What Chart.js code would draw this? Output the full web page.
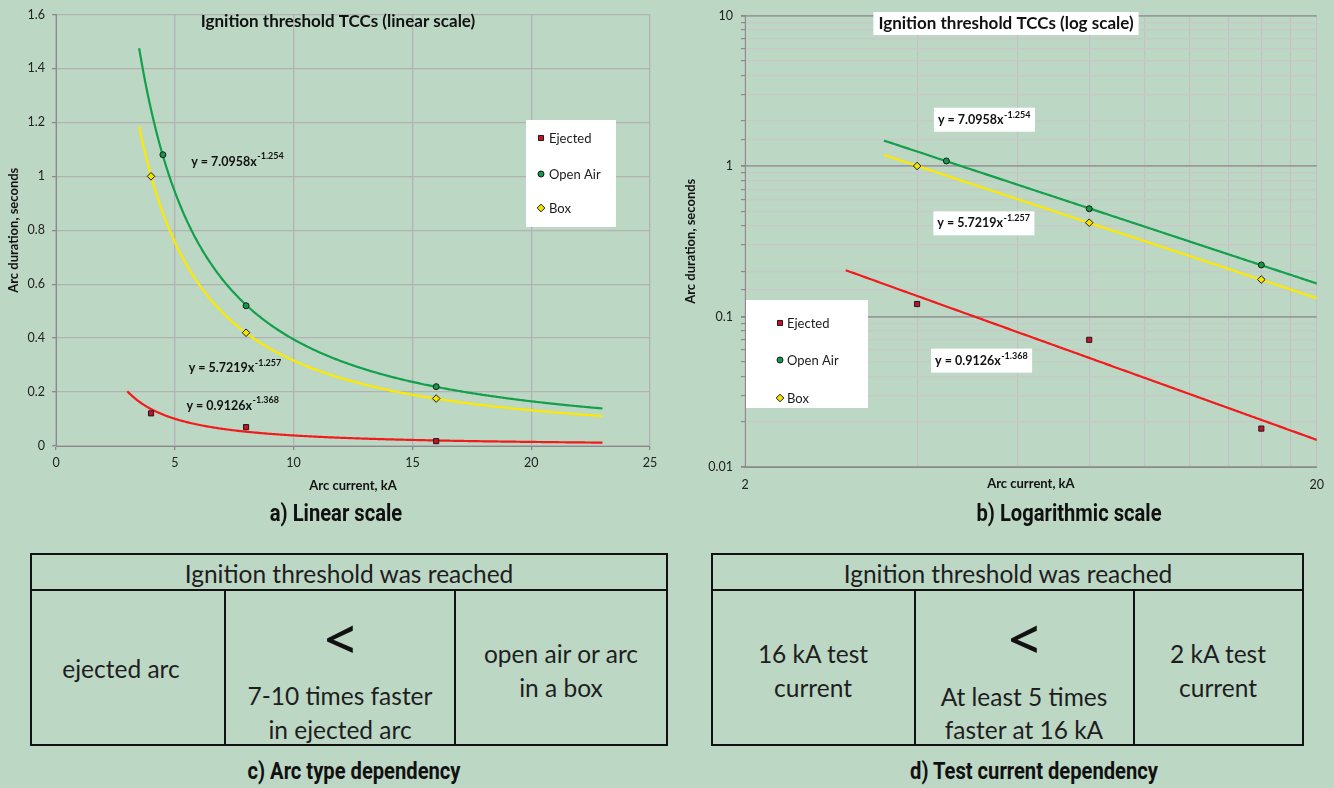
<!DOCTYPE html>
<html>
<head>
<meta charset="utf-8">
<script src="https://cdn.jsdelivr.net/npm/chart.js@4.4.1/dist/chart.umd.min.js"></script>
<style>
  body { margin: 0; width: 1334px; height: 788px; background: #bdd7c5; position: relative; overflow: hidden;
         font-family: Lato, "Open Sans", sans-serif; color: #1c1c1c; }
  .box { position: absolute; }
  .cap { position: absolute; transform: translate(-50%, -50%) scaleX(0.84); white-space: nowrap;
         font-family: Roboto, "Liberation Sans", sans-serif; font-weight: bold; font-size: 24px; color: #111; }
  .tbl { position: absolute; border: 2px solid #111; box-sizing: border-box; }
  .hl { position: absolute; height: 2px; background: #111; }
  .vl { position: absolute; width: 2px; background: #111; }
  .t { position: absolute; transform: translate(-50%, -50%); white-space: nowrap; font-size: 24.5px; color: #1e1e1e; }
  .lt { font-family: "Open Sans", sans-serif; font-size: 54px; font-weight: 600; color: #111; }
</style>
</head>
<body>

<div class="box" style="left:0;top:0;width:670px;height:500px"><canvas id="linChart"></canvas></div>
<div class="box" style="left:670px;top:0;width:664px;height:500px"><canvas id="logChart"></canvas></div>

<div class="cap" style="left:336px;top:513px">a) Linear scale</div>
<div class="cap" style="left:1069px;top:513px">b) Logarithmic scale</div>

<!-- c) arc type table -->
<div class="tbl" style="left:30px;top:553px;width:638px;height:193px"></div>
<div class="hl" style="left:30px;top:589px;width:638px"></div>
<div class="vl" style="left:224px;top:590px;height:156px"></div>
<div class="vl" style="left:454px;top:590px;height:156px"></div>
<div class="t" style="left:349px;top:573px">Ignition threshold was reached</div>
<div class="t" style="left:121px;top:668px">ejected arc</div>
<div class="t lt" style="left:340px;top:638px">&lt;</div>
<div class="t" style="left:340px;top:695px">7-10 times faster</div>
<div class="t" style="left:340px;top:729px">in ejected arc</div>
<div class="t" style="left:561px;top:653px">open air or arc</div>
<div class="t" style="left:561px;top:687px">in a box</div>
<div class="cap" style="left:354px;top:771px">c) Arc type dependency</div>

<!-- d) test current table -->
<div class="tbl" style="left:711px;top:553px;width:593px;height:193px"></div>
<div class="hl" style="left:711px;top:589px;width:593px"></div>
<div class="vl" style="left:914px;top:590px;height:156px"></div>
<div class="vl" style="left:1133px;top:590px;height:156px"></div>
<div class="t" style="left:1008px;top:573px">Ignition threshold was reached</div>
<div class="t" style="left:813px;top:653px">16 kA test</div>
<div class="t" style="left:813px;top:687px">current</div>
<div class="t lt" style="left:1024px;top:638px">&lt;</div>
<div class="t" style="left:1024px;top:696px">At least 5 times</div>
<div class="t" style="left:1024px;top:729px">faster at 16 kA</div>
<div class="t" style="left:1218px;top:653px">2 kA test</div>
<div class="t" style="left:1218px;top:687px">current</div>
<div class="cap" style="left:1034px;top:771px">d) Test current dependency</div>

<script>
// measured points (arc current kA, arc duration s)
const ejectedX = [4, 8, 16];
const ejectedY = [0.121, 0.07, 0.018];
const openAirX = [4.5, 8, 16];
const openAirY = [1.08, 0.52, 0.22];
const boxX = [4, 8, 16];
const boxY = [1.0, 0.42, 0.176];

// power trendlines as printed on the chart: y = a * x^b
const fitA = [0.9126, 7.0958, 5.7219];
const fitB = [-1.368, -1.254, -1.257];
const fitStart = [3, 3.5, 3.5];
const fitEnd = 23;

const seriesNames = ['Ejected', 'Open Air', 'Box'];
const seriesX = [ejectedX, openAirX, boxX];
const seriesY = [ejectedY, openAirY, boxY];

// tick labels
const linXTicks = [0, 5, 10, 15, 20, 25];
const linYTicks = [0, 0.2, 0.4, 0.6, 0.8, 1, 1.2, 1.4, 1.6];
const linYLabels = ['0', '0.2', '0.4', '0.6', '0.8', '1', '1.2', '1.4', '1.6'];
const logXTicks = [2, 4, 6, 8, 10, 12, 14, 16, 18, 20];
const logXLabels = ['2', '', '', '', '', '', '', '', '', '20'];
const logYDecades = [0.01, 0.1, 1, 10];
const logYLabels = ['0.01', '0.1', '1', '10'];

const eqText = ['y = 0.9126x', 'y = 7.0958x', 'y = 5.7219x'];
const eqSup = ['-1.368', '-1.254', '-1.257'];

// styles
const lineColors = ['#f21b1b', '#12a04a', '#fbe900'];
const markerFill = ['#c8102a', '#109a48', '#f6e400'];
const pointStyles = ['rect', 'circle', 'rectRot'];
const pointRadii = [3.6, 3, 3.8];
const FONT = 'Lato, "Open Sans", sans-serif';

function trendPoints(i) {
    let pts = [];
    for (let x = fitStart[i]; x <= fitEnd + 1e-9; x += 0.05) {
        pts.push({ x: x, y: fitA[i] * Math.pow(x, fitB[i]) });
    }
    return pts;
}

function buildDatasets() {
    let ds = [];
    for (let i = 0; i < 3; i++) {
        ds.push({
            label: seriesNames[i],
            data: seriesX[i].map((x, k) => ({ x: x, y: seriesY[i][k] })),
            pointStyle: pointStyles[i],
            pointRadius: pointRadii[i],
            pointHoverRadius: pointRadii[i],
            backgroundColor: markerFill[i],
            borderColor: '#1a1a1a',
            borderWidth: 1,
            showLine: false
        });
    }
    for (let i = 0; i < 3; i++) {
        ds.push({
            label: seriesNames[i] + ' trend',
            data: trendPoints(i),
            showLine: true,
            pointRadius: 0,
            pointHoverRadius: 0,
            borderColor: lineColors[i],
            borderWidth: 2.2,
            fill: false
        });
    }
    return ds;
}

// title, legend and trendline equations drawn inside the plot area
function overlay(cfg) {
    return {
        id: 'overlay',
        beforeDatasetsDraw(chart) {
            const ctx = chart.ctx;
            const xs = chart.scales.x, ys = chart.scales.y;
            ctx.save();

            // title
            ctx.font = 'bold 17px ' + FONT;
            ctx.textAlign = 'center';
            ctx.textBaseline = 'middle';
            if (cfg.titleBox) {
                const w = ctx.measureText(cfg.title).width;
                ctx.fillStyle = '#fff';
                ctx.fillRect(cfg.titleAt[0] - w / 2 - 5, cfg.titleBox[0], w + 10, cfg.titleBox[1]);
            }
            ctx.fillStyle = '#111';
            ctx.fillText(cfg.title, cfg.titleAt[0], cfg.titleAt[1]);

            // legend
            const lg = cfg.legend;
            ctx.fillStyle = '#fff';
            ctx.fillRect(lg.box[0], lg.box[1], lg.box[2], lg.box[3]);
            ctx.font = lg.size + 'px ' + FONT;
            ctx.textAlign = 'left';
            for (let i = 0; i < 3; i++) {
                const ds = chart.data.datasets[i];
                ctx.fillStyle = ds.backgroundColor;
                ctx.strokeStyle = '#1a1a1a';
                ctx.lineWidth = 1;
                Chart.helpers.drawPoint(ctx, { pointStyle: ds.pointStyle, radius: ds.pointRadius, rotation: 0, borderWidth: 1 },
                    lg.markerX, lg.rows[i]);
                ctx.fillStyle = '#1c1c1c';
                ctx.fillText(ds.label, lg.textX, lg.rows[i] + 1);
            }

            // equations
            for (let i = 0; i < 3; i++) {
                const at = cfg.eqAt[i];
                const px = xs.getPixelForValue(at[0]);
                const py = ys.getPixelForValue(at[1]);
                ctx.font = 'bold 12.5px ' + FONT;
                const w1 = ctx.measureText(eqText[i]).width;
                ctx.font = 'bold 9px ' + FONT;
                const w2 = ctx.measureText(eqSup[i]).width;
                if (cfg.eqBox) {
                    ctx.fillStyle = '#fff';
                    ctx.fillRect(px - 4, py - 12, w1 + w2 + 9, 24);
                }
                ctx.fillStyle = '#111';
                ctx.font = 'bold 12.5px ' + FONT;
                ctx.textBaseline = 'middle';
                ctx.fillText(eqText[i], px, py);
                ctx.font = 'bold 9px ' + FONT;
                ctx.fillText(eqSup[i], px + w1 + 0.5, py - 5);
            }
            ctx.restore();
        }
    };
}

function axisTitle(text, pad) {
    return { display: true, text: text, color: '#111', font: { family: FONT, size: 13, weight: 'bold' }, padding: pad };
}

const tickFont = { family: FONT, size: 12.5 };

// a) linear scale
new Chart(document.getElementById('linChart'), {
    type: 'scatter',
    data: { datasets: buildDatasets() },
    options: {
        responsive: true,
        maintainAspectRatio: false,
        animation: false,
        events: [],
        layout: { padding: { top: 11, right: 20, left: 0, bottom: 0 } },
        plugins: { legend: { display: false }, tooltip: { enabled: false } },
        scales: {
            x: {
                type: 'linear', min: 0, max: 25,
                afterBuildTicks: s => { s.ticks = linXTicks.map(v => ({ value: v })); },
                afterFit: s => { s.height = 54; },
                ticks: { font: tickFont, color: '#222', padding: 5, maxRotation: 0, autoSkip: false,
                         callback: (v, i) => String(linXTicks[i]) },
                grid: { color: '#b2b2b2', lineWidth: 1.3, tickLength: 4, tickColor: '#8a8a8a' },
                border: { color: '#8a8a8a', width: 1 },
                title: axisTitle('Arc current, kA', { top: 0, bottom: 6 })
            },
            y: {
                type: 'linear', min: 0, max: 1.6,
                afterBuildTicks: s => { s.ticks = linYTicks.map(v => ({ value: v })); },
                afterFit: s => { s.width = 56; },
                ticks: { font: tickFont, color: '#222', padding: 7, autoSkip: false,
                         callback: (v, i) => linYLabels[i] },
                grid: { color: '#b2b2b2', lineWidth: 1.3, tickLength: 4, tickColor: '#8a8a8a' },
                border: { color: '#8a8a8a', width: 1 },
                title: axisTitle('Arc duration, seconds', { top: 6, bottom: 0 })
            }
        }
    },
    plugins: [overlay({
        title: 'Ignition threshold TCCs (linear scale)',
        titleAt: [338, 22],
        legend: { box: [526, 120, 90, 107], markerX: 541, textX: 549, rows: [138, 174, 208], size: 13 },
        eqAt: [[5.49, 0.15], [5.69, 1.055], [5.585, 0.29]],
        eqBox: false
    })]
});

function isDecade(v) {
    return logYDecades.some(d => Math.abs(d - v) < d * 1e-6);
}

// b) logarithmic scale
new Chart(document.getElementById('logChart'), {
    type: 'scatter',
    data: { datasets: buildDatasets() },
    options: {
        responsive: true,
        maintainAspectRatio: false,
        animation: false,
        events: [],
        layout: { padding: { top: 11, right: 14, left: 0, bottom: 0 } },
        plugins: { legend: { display: false }, tooltip: { enabled: false } },
        scales: {
            x: {
                type: 'logarithmic', min: 2, max: 20,
                afterBuildTicks: s => { s.ticks = logXTicks.map(v => ({ value: v })); },
                afterFit: s => { s.height = 33; },
                ticks: { font: tickFont, color: '#222', padding: 10, maxRotation: 0, autoSkip: false,
                         callback: (v, i) => logXLabels[i] },
                grid: { color: '#c2c2c2', lineWidth: 1.2, drawTicks: false },
                border: { color: '#8a8a8a', width: 1 },
                title: axisTitle('Arc current, kA', { top: 0, bottom: 8 })
            },
            y: {
                type: 'logarithmic', min: 0.01, max: 10,
                afterFit: s => { s.width = 75; },
                ticks: { font: tickFont, color: '#222', padding: 8, autoSkip: false,
                         callback: v => {
                             const k = logYDecades.findIndex(d => Math.abs(d - v) < d * 1e-6);
                             return k >= 0 ? logYLabels[k] : '';
                         } },
                grid: {
                    color: c => isDecade(c.tick.value) ? '#9a9a9a' : '#c8c8c8',
                    lineWidth: c => isDecade(c.tick.value) ? 1.8 : 1.2,
                    tickLength: 4, tickColor: '#8a8a8a'
                },
                border: { color: '#8a8a8a', width: 1 },
                title: axisTitle('Arc duration, seconds', { top: 13, bottom: 0 })
            }
        }
    },
    plugins: [overlay({
        title: 'Ignition threshold TCCs (log scale)',
        titleAt: [336, 24],
        titleBox: [12, 23],
        legend: { box: [76, 300, 122, 108], markerX: 110, textX: 117, rows: [323, 360, 398], size: 13 },
        eqAt: [[4.3, 0.0509], [4.35, 2.03], [4.34, 0.416]],
        eqBox: true
    })]
});
</script>
</body>
</html>
